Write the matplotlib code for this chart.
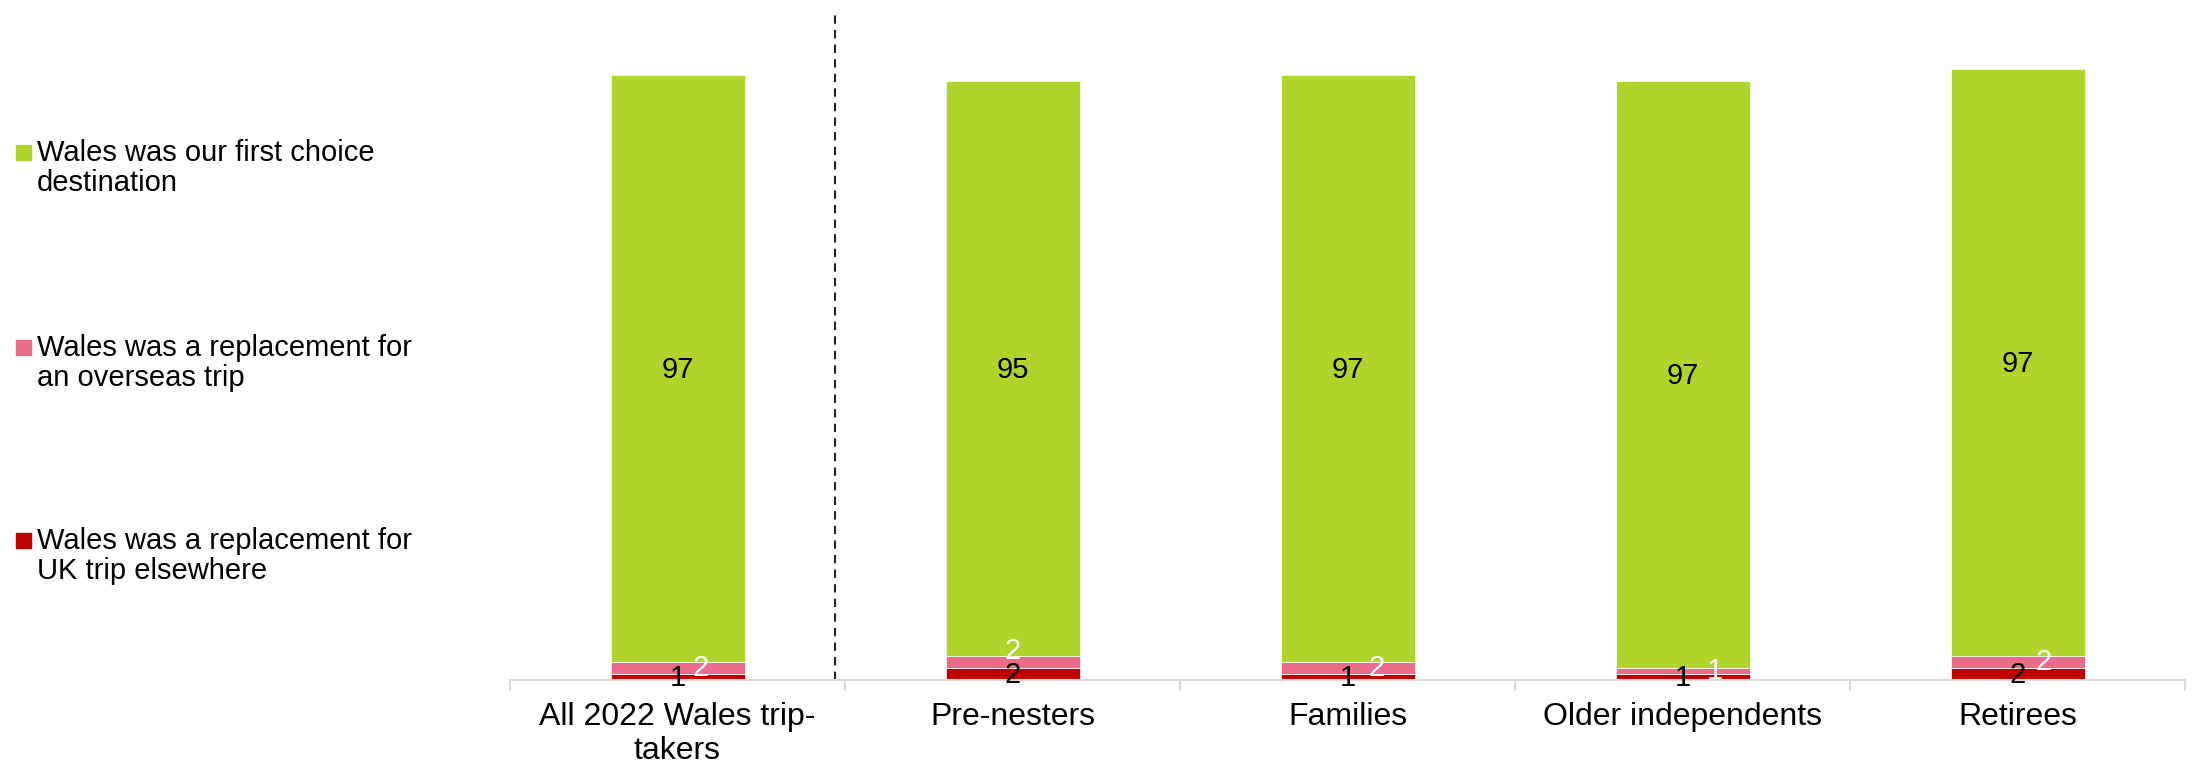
import numpy as np
import matplotlib
matplotlib.use("Agg")
import matplotlib.pyplot as plt
from matplotlib.patches import Rectangle

plt.rcParams["font.family"] = ["Liberation Sans", "DejaVu Sans"]

categories = ["All 2022 Wales trip-\ntakers", "Pre-nesters", "Families", "Older independents", "Retirees"]
uk_elsewhere = [1, 2, 1, 1, 2]
overseas = [2, 2, 2, 1, 2]
first_choice = [97, 95, 97, 97, 97]

series_names = [
    "Wales was a replacement for\nUK trip elsewhere",
    "Wales was a replacement for\nan overseas trip",
    "Wales was our first choice\ndestination",
]
colors = ["#BF0000", "#E96C8A", "#B0D42C"]
label_colors = ["black", "white", "black"]
# small nudges (points) for the thin overseas labels
overseas_offsets = [(17, 0), (0, 8), (21, 0), (23, 0), (19, 0)]

FS = 21
W, H, DPI = 2193, 768, 100
fig = plt.figure(figsize=(W / DPI, H / DPI), dpi=DPI)
ax = fig.add_axes([510 / W, 1 - 680 / H, (2185 - 510) / W, (680 - 11) / H])

x = np.arange(len(categories))
bottom = np.zeros(len(categories))
for i, vals in enumerate([uk_elsewhere, overseas, first_choice]):
    vals = np.array(vals, dtype=float)
    ax.bar(x, vals, width=0.4, bottom=bottom, color=colors[i],
           edgecolor="white", linewidth=0.5, zorder=2)
    for j, v in enumerate(vals):
        yc = bottom[j] + v / 2
        off = overseas_offsets[j] if i == 1 else (0, -1)
        ax.annotate(f"{v:.0f}", (x[j], yc), xytext=off, textcoords="offset points",
                    ha="center", va="center", fontsize=FS, color=label_colors[i], zorder=3)
    bottom += vals

ax.set_xlim(-0.5, len(categories) - 0.5)
ax.set_ylim(0, 110.5)
ax.axvline(0.47, color="#222222", lw=1.5, linestyle=(0, (4, 3)), zorder=1)

for s in ["left", "right", "top"]:
    ax.spines[s].set_visible(False)
ax.spines["bottom"].set_color("#D9D9D9")
ax.spines["bottom"].set_linewidth(1.5)
ax.set_yticks([])
ax.set_xticks(x)
ax.set_xticklabels(categories, fontsize=23, linespacing=1.15)
ax.tick_params(axis="x", which="major", length=0, pad=16)
ax.set_xticks(np.arange(-0.5, len(categories)), minor=True)
ax.tick_params(axis="x", which="minor", length=8, width=1.5, color="#D9D9D9")

# legend on the left, drawn by hand to get the wide spacing
legend_rows = [(168, 2), (363, 1), (556, 0)]
for yc, k in legend_rows:
    sq_c = yc - 16
    fig.patches.append(Rectangle((16 / W, 1 - (sq_c + 7.5) / H), 15 / W, 15 / H,
                                 transform=fig.transFigure, color=colors[k]))
    fig.text(37 / W, 1 - yc / H, series_names[k], ha="left", va="center",
             fontsize=FS, linespacing=1.1)

fig.savefig("out.png", dpi=DPI)
